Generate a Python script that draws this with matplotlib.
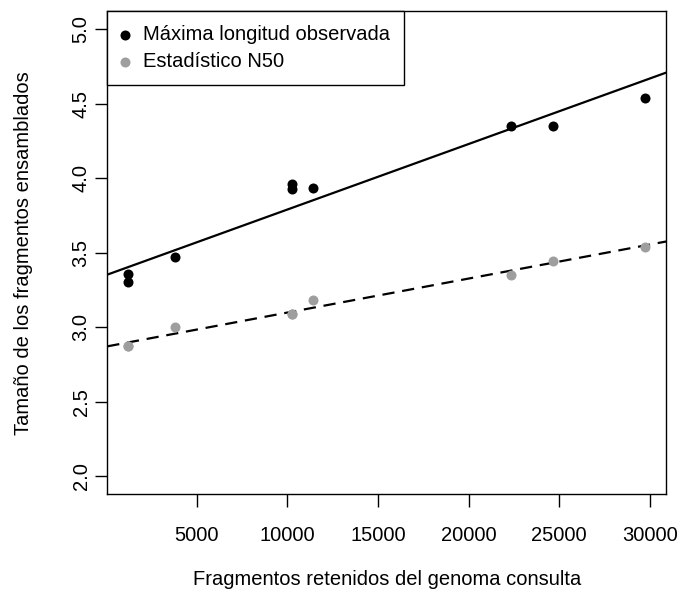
import numpy as np
import matplotlib
matplotlib.use("Agg")
import matplotlib.pyplot as plt

plt.rcParams["font.family"] = ["Liberation Sans", "DejaVu Sans"]

# fragments retained of the query genome
fragmentos = [1203, 1203, 3784, 10234, 10234, 11428, 22356, 24660, 29762]
# maximum observed length
max_longitud = [3.357, 3.301, 3.475, 3.963, 3.927, 3.934, 4.347, 4.347, 4.535]
# N50 statistic
n50 = [2.878, 2.878, 2.999, 3.091, 3.091, 3.180, 3.352, 3.442, 3.542]

# fitted lines (intercept, slope)
recta_max = (3.3507, 4.393e-5)
recta_n50 = (2.871, 2.28e-5)

x_ticks = [5000, 10000, 15000, 20000, 25000, 30000]
y_ticks = [2.0, 2.5, 3.0, 3.5, 4.0, 4.5, 5.0]

color_max = "black"
color_n50 = "#9e9e9e"
fs = 14.5

fig = plt.figure(figsize=(6.79, 5.92), dpi=100)
ax = fig.add_axes([0.158, 0.165, 0.823, 0.816])

x = np.array(fragmentos)
ax.scatter(x, max_longitud, s=52, color=color_max, zorder=3,
           label="Máxima longitud observada", linewidths=0)
ax.scatter(x, n50, s=52, color=color_n50, zorder=3,
           label="Estadístico N50", linewidths=0)

# R-like axis limits (4% padding)
rng = x.max() - x.min()
xlim = (x.min() - 0.04 * rng, x.max() + 0.04 * rng)
ax.set_xlim(xlim)
ax.set_ylim(2.0 - 0.04 * 3, 5.0 + 0.04 * 3)

xs = np.array(xlim)
ax.plot(xs, recta_max[0] + recta_max[1] * xs, color="black", lw=1.6, zorder=2)
ax.plot(xs, recta_n50[0] + recta_n50[1] * xs, color="black", lw=1.6,
        dashes=(5.5, 3.5), zorder=2)

ax.set_xticks(x_ticks)
ax.set_xticklabels([str(t) for t in x_ticks])
ax.set_yticks(y_ticks)
ax.set_yticklabels([f"{t:.1f}" for t in y_ticks], rotation=90, va="center")
ax.tick_params(axis="both", direction="out", length=9, width=1,
               labelsize=fs, colors="black")
ax.tick_params(axis="x", pad=13.5)
ax.tick_params(axis="y", pad=3)
for s in ax.spines.values():
    s.set_linewidth(1.0)

ax.set_xlabel("Fragmentos retenidos del genoma consulta", fontsize=fs,
              labelpad=18)
ax.set_ylabel("Tamaño de los fragmentos ensamblados", fontsize=fs,
              labelpad=28)

leg = ax.legend(loc="upper left", borderaxespad=0, fancybox=False,
                fontsize=fs, handletextpad=0.65, borderpad=0.7,
                labelspacing=0.4, handlelength=0.4, scatterpoints=1)
leg.get_frame().set_edgecolor("black")
leg.get_frame().set_linewidth(1.0)
leg.get_frame().set_alpha(1)

fig.savefig("out.png", dpi=100)
